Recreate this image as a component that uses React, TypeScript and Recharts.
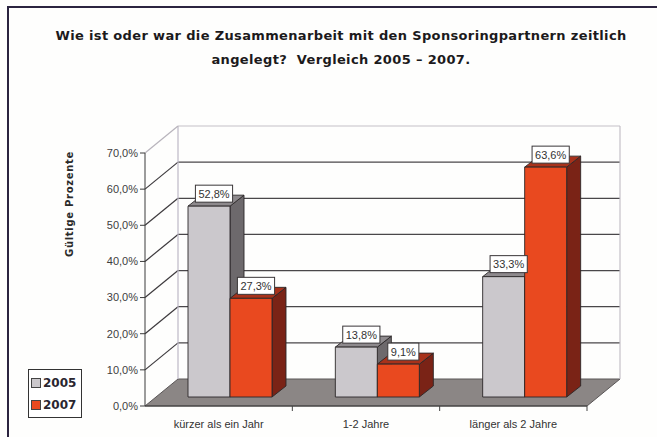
import React from 'react';
import { BarChart, Bar, XAxis, YAxis, CartesianGrid, LabelList } from 'recharts';

// Data
const categories = ['kürzer als ein Jahr', '1-2 Jahre', 'länger als 2 Jahre'];
const values2005 = [52.8, 13.8, 33.3];
const values2007 = [27.3, 9.1, 63.6];
const yTicks = [0, 10, 20, 30, 40, 50, 60, 70];
const seriesNames = ['2005', '2007'];

const data = categories.map((name, i) => ({ name, y2005: values2005[i], y2007: values2007[i] }));

const FONT = '"Liberation Sans", Arial, sans-serif';
const BOLD_FONT = '"DejaVu Sans", Verdana, sans-serif';
const W = 657;
const H = 437;
const MARGIN = { top: 153, right: 70, bottom: 6, left: 85 };
const Y_AXIS_W = 60;
const X_AXIS_H = 25;
const PLOT_H = H - MARGIN.top - MARGIN.bottom - X_AXIS_H;
const PLOT_W = W - MARGIN.left - Y_AXIS_W - MARGIN.right;

// 3D offsets
const WALL_DX = 33;
const WALL_DY = -27;
const BAR_SHIFT_X = 11;
const BAR_SHIFT_Y = -9;
const DEPTH_X = 14;
const DEPTH_Y = -11;

const COLORS = {
  '2005': { front: '#cbc8cc', side: '#6d696c', top: '#8e8a8d' },
  '2007': { front: '#e9491f', side: '#7a2316', top: '#a8321b' },
};

const pct = (v: number) => v.toFixed(1).replace('.', ',') + '%';

const gridLine = (props: any) => {
  const { x1, x2, y1 } = props;
  const bx = x1 + WALL_DX;
  const ex = x2 + WALL_DX;
  const by = y1 + WALL_DY;
  const isBottom = Math.abs(y1 - (MARGIN.top + PLOT_H)) < 1;
  const isTop = Math.abs(y1 - MARGIN.top) < 1;
  if (isBottom) {
    return (
      <g key={props.key}>
        <polygon
          points={`${x1},${y1} ${x2},${y1} ${ex},${by} ${bx},${by}`}
          fill="#8b8685"
          stroke="#5a5657"
          strokeWidth={1}
        />
      </g>
    );
  }
  if (isTop) {
    return (
      <g key={props.key}>
        <line x1={bx} y1={by} x2={bx} y2={by + PLOT_H} stroke="#bdb8c6" strokeWidth={1.2} />
        <line x1={ex} y1={by} x2={ex} y2={by + PLOT_H} stroke="#c4c0c8" strokeWidth={1.2} />
        <line x1={bx} y1={by} x2={ex} y2={by} stroke="#c4c0c8" strokeWidth={1.2} />
        <line x1={x1} y1={y1} x2={bx} y2={by} stroke="#b8b4bc" strokeWidth={1.2} />
      </g>
    );
  }
  return (
    <g key={props.key}>
      <line x1={x1} y1={y1} x2={bx} y2={by} stroke="#3d3a3d" strokeWidth={1.2} />
      <line x1={bx} y1={by} x2={ex} y2={by} stroke="#4a474a" strokeWidth={1.2} />
    </g>
  );
};

const make3DBar = (c: { front: string; side: string; top: string }) => (props: any) => {
  const { x, y, width, height } = props;
  if (width == null || height == null) return null;
  const fx = x + BAR_SHIFT_X;
  const fy = y + BAR_SHIFT_Y;
  const h = height;
  return (
    <g stroke="#2b2728" strokeWidth={0.9} strokeLinejoin="round">
      <polygon
        points={`${fx + width},${fy} ${fx + width + DEPTH_X},${fy + DEPTH_Y} ${fx + width + DEPTH_X},${fy + h + DEPTH_Y} ${fx + width},${fy + h}`}
        fill={c.side}
      />
      <polygon
        points={`${fx},${fy} ${fx + DEPTH_X},${fy + DEPTH_Y} ${fx + width + DEPTH_X},${fy + DEPTH_Y} ${fx + width},${fy}`}
        fill={c.top}
      />
      <rect x={fx} y={fy} width={width} height={h} fill={c.front} />
    </g>
  );
};

const charW = (ch: string) => (ch === ',' ? 0.278 : ch === '%' ? 0.889 : 0.556);

const ValueLabel = (props: any) => {
  const { x, y, width, value } = props;
  if (value == null) return null;
  const txt = pct(Number(value));
  const fs = 11;
  const tw = txt.split('').reduce((s, ch) => s + charW(ch) * fs, 0);
  const bw = tw + 6;
  const cx = x + BAR_SHIFT_X + width / 2 + 5;
  const bottom = y + BAR_SHIFT_Y - 4;
  return (
    <g>
      <rect x={cx - bw / 2} y={bottom - 17} width={bw} height={17} fill="#ffffff" stroke="#3a3638" strokeWidth={1} />
      <text x={cx} y={bottom - 4.5} textAnchor="middle" fontSize={fs} fontFamily={FONT} fill="#333">
        {txt}
      </text>
    </g>
  );
};

const XTick = (props: any) => {
  const { x, y, payload } = props;
  const half = payload && payload.offset != null ? payload.offset : PLOT_W / categories.length / 2;
  return (
    <g>
      <line x1={x + half} x2={x + half} y1={y} y2={y + 5} stroke="#444" strokeWidth={1} />
      <text x={x} y={y + 22} textAnchor="middle" fontSize={11} fontFamily={FONT} fill="#333">
        {payload.value}
      </text>
    </g>
  );
};

const YLabel = () => (
  <text
    x={69}
    y={204}
    transform="rotate(-90 69 204)"
    textAnchor="middle"
    dominantBaseline="central"
    fontSize={10}
    fontWeight="bold"
    fontFamily={BOLD_FONT}
    fill="#2a2a2a"
    letterSpacing={0.7}
  >
    Gültige Prozente
  </text>
);

const App: React.FC = () => {
  return (
    <div style={{ position: 'fixed', left: 0, top: 0, width: W, height: H, overflow: 'hidden', background: '#fefefd', fontFamily: FONT }}>
      <div
        style={{
          position: 'absolute',
          left: 7,
          top: 6,
          width: W + 20,
          height: H + 20,
          border: '2px solid #2b2440',
          boxSizing: 'border-box',
        }}
      />
      <div
        style={{
          position: 'absolute',
          left: 21,
          top: 24,
          width: 640,
          textAlign: 'center',
          fontSize: 13,
          fontFamily: BOLD_FONT,
          fontWeight: 'bold',
          letterSpacing: 0.35,
          lineHeight: '24px',
          color: '#1c1a1c',
          whiteSpace: 'pre',
        }}
      >
        {'Wie ist oder war die Zusammenarbeit mit den Sponsoringpartnern zeitlich\nangelegt?  Vergleich 2005 – 2007.'}
      </div>

      <div style={{ position: 'absolute', left: 0, top: 0 }}>
        <BarChart width={W} height={H} data={data} margin={MARGIN} barGap={0}>
          <CartesianGrid vertical={false} horizontal={gridLine} />
          <XAxis
            dataKey="name"
            height={X_AXIS_H}
            tickLine={false}
            tickSize={0}
            tickMargin={0}
            axisLine={{ stroke: '#3a3a3a', strokeWidth: 1 }}
            tick={<XTick />}
            interval={0}
          />
          <YAxis
            width={Y_AXIS_W}
            domain={[0, 70]}
            ticks={yTicks}
            tickFormatter={pct}
            tickSize={5}
            tickMargin={2}
            tick={{ fontSize: 11, fill: '#3d3d3d', fontFamily: FONT }}
            tickLine={{ stroke: '#3a3a3a' }}
            axisLine={{ stroke: '#3a3a3a', strokeWidth: 1 }}
            label={<YLabel />}
          />
          <Bar dataKey="y2005" name={seriesNames[0]} barSize={42} fill={COLORS['2005'].front} shape={make3DBar(COLORS['2005'])} isAnimationActive={false}>
            <LabelList dataKey="y2005" content={<ValueLabel />} />
          </Bar>
          <Bar dataKey="y2007" name={seriesNames[1]} barSize={42} fill={COLORS['2007'].front} shape={make3DBar(COLORS['2007'])} isAnimationActive={false}>
            <LabelList dataKey="y2007" content={<ValueLabel />} />
          </Bar>
        </BarChart>
      </div>

      <div
        style={{
          position: 'absolute',
          left: 28,
          top: 369,
          width: 54,
          height: 49,
          border: '1px solid #333',
          background: '#fff',
          boxSizing: 'border-box',
          padding: '4px 0 0 2px',
        }}
      >
        {seriesNames.map((s) => (
          <div key={s} style={{ display: 'flex', alignItems: 'center', height: 18, marginBottom: 4 }}>
            <span
              style={{
                display: 'inline-block',
                width: 8,
                height: 8,
                background: COLORS[s as '2005' | '2007'].front,
                border: '1px solid #444',
                marginRight: 2,
              }}
            />
            <span style={{ fontSize: 12, fontWeight: 'bold', fontFamily: BOLD_FONT, color: '#2a2630' }}>{s}</span>
          </div>
        ))}
      </div>
    </div>
  );
};

export default App;
